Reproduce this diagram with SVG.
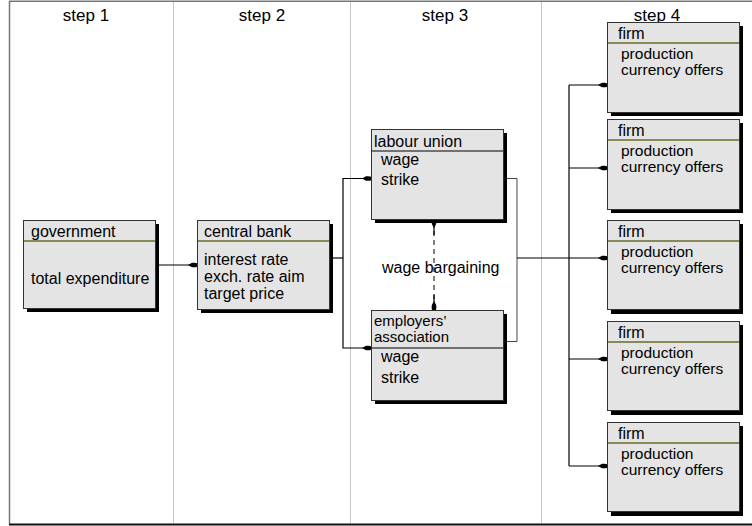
<svg xmlns="http://www.w3.org/2000/svg" width="752" height="526" viewBox="0 0 752 526">
<defs>
<style>
text{font-family:"Liberation Sans",Arial,sans-serif;font-size:16px;fill:#000}
.step{font-size:17px}
.tight{font-size:15px}
.fb{font-size:15.5px}
.box{fill:#e4e4e4;stroke:#333;stroke-width:1}
.sh{fill:#000}
.hl{stroke:#6b6b2a;stroke-width:1.3}
.hb{stroke:#000;stroke-width:1.2}
.col{stroke:#c4c4c4;stroke-width:1}
.c{fill:none;stroke:#000;stroke-width:1.2}
.cg{fill:none;stroke:#444;stroke-width:1}
</style>
<marker id="dot" viewBox="0 0 10 6" refX="9" refY="3" markerWidth="10" markerHeight="6" markerUnits="userSpaceOnUse" orient="auto">
<path d="M0,3 L4,0.8 Q10,0 10,3 Q10,6 4,5.2 Z" fill="#000"/>
</marker>
</defs>
<rect width="752" height="526" fill="#fff"/>
<g id="frame">
<line x1="9.5" y1="1" x2="9.5" y2="524" stroke="#777" stroke-width="1.5"/>
<line x1="9" y1="1.2" x2="752" y2="1.2" stroke="#777" stroke-width="1.5"/>
<line x1="9" y1="524.5" x2="752" y2="524.5" stroke="#111" stroke-width="1.8"/>
<line class="col" x1="173.5" y1="2" x2="173.5" y2="523"/>
<line class="col" x1="350.5" y1="2" x2="350.5" y2="523"/>
<line class="col" x1="541.5" y1="2" x2="541.5" y2="523"/>
<text class="step" x="86" y="21" text-anchor="middle">step 1</text>
<text class="step" x="262" y="21" text-anchor="middle">step 2</text>
<text class="step" x="445" y="21" text-anchor="middle">step 3</text>
<text class="step" x="657" y="21" text-anchor="middle">step 4</text>
</g>
<g id="connectors">
<line class="c" x1="155" y1="265" x2="197" y2="265" marker-end="url(#dot)"/>
<line class="c" x1="329" y1="258" x2="343" y2="258"/>
<polyline class="c" points="343,258 343,178.5 371,178.5" marker-end="url(#dot)"/>
<polyline class="c" points="343,258 343,348 371,348" marker-end="url(#dot)"/>
<line x1="434" y1="222" x2="434" y2="310" stroke="#000" stroke-width="1" stroke-dasharray="5,4"/>
<line x1="434" y1="235" x2="434" y2="219" class="c" marker-end="url(#dot)"/>
<line x1="434" y1="295" x2="434" y2="310" class="c" marker-end="url(#dot)"/>
<polyline class="cg" points="503,178.5 517,178.5 517,341.5 503,341.5"/>
<line class="c" x1="517" y1="258" x2="607" y2="258" marker-end="url(#dot)"/>
<line class="c" x1="569" y1="85" x2="569" y2="466"/>
<line class="c" x1="569" y1="85" x2="607" y2="85" marker-end="url(#dot)"/>
<line class="c" x1="569" y1="168" x2="607" y2="168" marker-end="url(#dot)"/>
<line class="c" x1="569" y1="359" x2="607" y2="359" marker-end="url(#dot)"/>
<line class="c" x1="569" y1="466" x2="607" y2="466" marker-end="url(#dot)"/>
</g>
<g id="government">
<rect class="sh" x="27" y="224" width="132" height="88"/>
<rect class="box" x="23.5" y="220.5" width="132" height="88"/>
<line class="hl" x1="24" y1="241" x2="155" y2="241"/>
<text x="31" y="237">government</text>
<text x="31" y="284">total expenditure</text>
</g>
<g id="central-bank">
<rect class="sh" x="201" y="224" width="132" height="89"/>
<rect class="box" x="197.5" y="220.5" width="132" height="89"/>
<line class="hl" x1="198" y1="241" x2="329" y2="241"/>
<text x="204" y="237">central bank</text>
<text x="204" y="265">interest rate</text>
<text x="204" y="282">exch. rate aim</text>
<text x="204" y="299">target price</text>
</g>
<g id="labour-union">
<rect class="sh" x="375" y="133" width="132" height="90"/>
<rect class="box" x="371.5" y="129.5" width="132" height="90"/>
<line class="hb" x1="372" y1="151" x2="503" y2="151"/>
<text x="374" y="147">labour union</text>
<text x="381" y="165">wage</text>
<text x="381" y="185">strike</text>
</g>
<text x="382" y="273">wage bargaining</text>
<g id="employers-association">
<rect class="sh" x="375" y="314" width="132" height="90"/>
<rect class="box" x="371.5" y="310.5" width="132" height="90"/>
<line class="hb" x1="372" y1="348" x2="503" y2="348"/>
<text class="tight" x="374" y="326">employers’</text>
<text class="tight" x="374" y="342">association</text>
<text x="381" y="362">wage</text>
<text x="381" y="383">strike</text>
</g>
<g id="firm-1">
<rect class="sh" x="611" y="26" width="132" height="90"/>
<rect class="box" x="607.5" y="22.5" width="132" height="90"/>
<line class="hl" x1="608" y1="43" x2="739" y2="43"/>
<text x="618" y="39">firm</text>
<text class="fb" x="621" y="59">production</text>
<text class="fb" x="621" y="75">currency offers</text>
</g>
<g id="firm-2">
<rect class="sh" x="611" y="123" width="132" height="90"/>
<rect class="box" x="607.5" y="119.5" width="132" height="90"/>
<line class="hl" x1="608" y1="140" x2="739" y2="140"/>
<text x="618" y="136">firm</text>
<text class="fb" x="621" y="156">production</text>
<text class="fb" x="621" y="172">currency offers</text>
</g>
<g id="firm-3">
<rect class="sh" x="611" y="224" width="132" height="90"/>
<rect class="box" x="607.5" y="220.5" width="132" height="89"/>
<line class="hl" x1="608" y1="241" x2="739" y2="241"/>
<text x="618" y="237">firm</text>
<text class="fb" x="621" y="257">production</text>
<text class="fb" x="621" y="273">currency offers</text>
</g>
<g id="firm-4">
<rect class="sh" x="611" y="325" width="132" height="90"/>
<rect class="box" x="607.5" y="321.5" width="132" height="89"/>
<line class="hl" x1="608" y1="342" x2="739" y2="342"/>
<text x="618" y="338">firm</text>
<text class="fb" x="621" y="358">production</text>
<text class="fb" x="621" y="374">currency offers</text>
</g>
<g id="firm-5">
<rect class="sh" x="611" y="426" width="132" height="90"/>
<rect class="box" x="607.5" y="422.5" width="132" height="89"/>
<line class="hl" x1="608" y1="443" x2="739" y2="443"/>
<text x="618" y="439">firm</text>
<text class="fb" x="621" y="459">production</text>
<text class="fb" x="621" y="475">currency offers</text>
</g>
</svg>
